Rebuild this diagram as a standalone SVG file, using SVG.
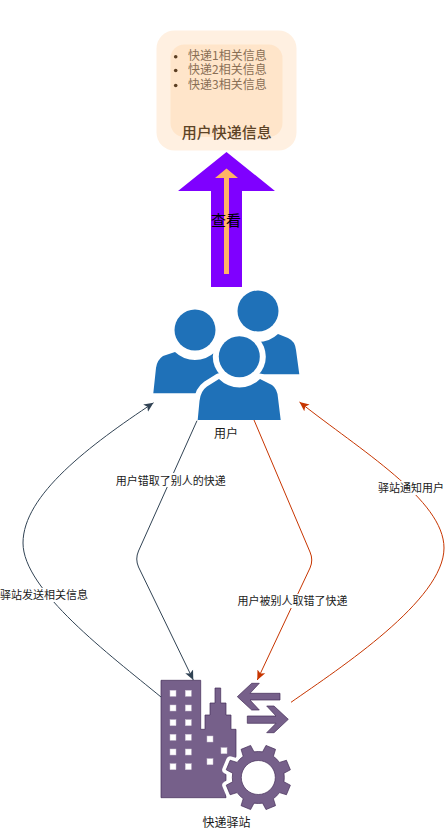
<svg xmlns="http://www.w3.org/2000/svg" xmlns:xlink="http://www.w3.org/1999/xlink" width="445" height="831" viewBox="0 0 445 831">
<style>
text{font-family:"Noto Sans CJK SC","Liberation Sans",sans-serif;fill:#1a1a1a;text-anchor:middle;dominant-baseline:central}
.lbl{font-size:11px}
.cap{font-size:12px}
.item{font-size:12px;fill:#6b5138;text-anchor:start;opacity:.8}
.conn{fill:none;stroke-width:1}
.dark{stroke:#314354}
.red{stroke:#c73500}
.bg{fill:#fff}
.user{fill:#1f71b8}
.ring{fill:#fff}
.prp{fill:#76608a;stroke:#432d57;stroke-width:.7}
.win{fill:#fff;stroke:#c9bfd2;stroke-width:.5}
</style>
<defs>
<marker id="aDark" markerUnits="userSpaceOnUse" markerWidth="12" markerHeight="12" refX="9.5" refY="5" orient="auto"><path d="M0,.7L9.5,5L0,9.3L2.2,5Z" fill="#314354"/></marker>
<marker id="aRed" markerUnits="userSpaceOnUse" markerWidth="12" markerHeight="12" refX="9.5" refY="5" orient="auto"><path d="M0,.7L9.5,5L0,9.3L2.2,5Z" fill="#c73500"/></marker>
<path id="gear" fill-rule="evenodd" d="M25.64,4.29L32.09,7.7L28.14,17.24L21.17,15.1A26,26 0 0 1 15.1,21.17L17.24,28.14L7.7,32.09L4.29,25.64A26,26 0 0 1 -4.29,25.64L-7.7,32.09L-17.24,28.14L-15.1,21.17A26,26 0 0 1 -21.17,15.1L-28.14,17.24L-32.09,7.7L-25.64,4.29A26,26 0 0 1 -25.64,-4.29L-32.09,-7.7L-28.14,-17.24L-21.17,-15.1A26,26 0 0 1 -15.1,-21.17L-17.24,-28.14L-7.7,-32.09L-4.29,-25.64A26,26 0 0 1 4.29,-25.64L7.7,-32.09L17.24,-28.14L15.1,-21.17A26,26 0 0 1 21.17,-15.1L28.14,-17.24L32.09,-7.7L25.64,-4.29A26,26 0 0 1 25.64,4.29ZM17,0A17,17 0 1 0 -17,0A17,17 0 1 0 17,0Z"/>
</defs>

<g id="info">
<rect x="156.5" y="30.5" width="140" height="120" rx="18" fill="#fff0e1"/>
<rect x="170.5" y="44.5" width="112" height="92.5" rx="14" fill="#ffe5ca"/>
<circle cx="175.7" cy="56.7" r="1.8" fill="#5c3f23"/>
<circle cx="175.7" cy="70.5" r="1.8" fill="#5c3f23"/>
<circle cx="175.7" cy="85.5" r="1.8" fill="#5c3f23"/>
<text class="item" x="188" y="54.5">快递1相关信息</text>
<text class="item" x="188" y="68.5">快递2相关信息</text>
<text class="item" x="188" y="83">快递3相关信息</text>
<text x="226.7" y="131.5" font-size="15" font-weight="500" style="fill:#5c4326">用户快递信息</text>
</g>

<g id="view">
<path d="M226.5,152L275,191H242V287H211V191H178Z" fill="#7f00ff"/>
<path d="M226.5,168.5L238,178H229V274H224V178H215Z" fill="#ffb366"/>
<text x="226" y="219.5" font-size="15" style="fill:#000">查看</text>
</g>

<g id="users">
<path class="user" d="M299.3,374.3L296,350Q295,341 288,338L278,334A29,29 0 0 1 238,334L240,374.3Z"/>
<circle class="user" cx="258" cy="311" r="20.5"/>
<path class="user" d="M153.3,393.3L156,368Q157,360 163,356L175,352A29,29 0 0 0 215,352L225,393.3Z"/>
<circle class="user" cx="195" cy="330" r="20.5"/>
<circle class="ring" cx="239.3" cy="356.7" r="26.5"/>
<path d="M197.7,420L199.5,401Q200.5,391 207,386.5L219,379A29,29 0 0 0 260,379L272,385Q277.5,389 278,398L280.7,420Z" fill="#fff" stroke="#fff" stroke-width="11" stroke-linejoin="round"/>
<path class="user" d="M197.7,420L199.5,401Q200.5,391 207,386.5L219,379A29,29 0 0 0 260,379L272,385Q277.5,389 278,398L280.7,420Z"/>
<circle class="user" cx="239.3" cy="356.7" r="20.5"/>
<text class="cap" x="226" y="432">用户</text>
</g>

<g id="station">
<path class="prp" d="M161,680.3H200.7V729.3H205V715H210V703H215V688H220.7V703H226V715H231V729.3H236V770H226V797.7H161Z"/>
<g class="win">
<rect x="170" y="690.3" width="6" height="6"/><rect x="185.3" y="690.3" width="6" height="6"/>
<rect x="170" y="705" width="6" height="6"/><rect x="185.3" y="705" width="6" height="6"/>
<rect x="170" y="719.7" width="6" height="6"/><rect x="185.3" y="719.7" width="6" height="6"/>
<rect x="170" y="734.3" width="6" height="6"/><rect x="185.3" y="734.3" width="6" height="6"/>
<rect x="170" y="749" width="6" height="6"/><rect x="185.3" y="749" width="6" height="6"/>
<rect x="170" y="763.7" width="6" height="6"/><rect x="185.3" y="763.7" width="6" height="6"/>
<rect x="207" y="736" width="6" height="6"/><rect x="221" y="747.7" width="6" height="6"/><rect x="207" y="758.7" width="6" height="6"/>
</g>
<use xlink:href="#gear" href="#gear" transform="translate(258.3,777.5)" fill="#fff" stroke="#fff" stroke-width="8" stroke-linejoin="round"/>
<circle cx="258.3" cy="777.5" r="17" fill="#fff"/>
<use xlink:href="#gear" href="#gear" class="prp" transform="translate(258.3,777.5)"/>
<path class="prp" d="M237.3,696.7L251.7,683.3H259.3L250,693.3H280V700H250L259.3,710H251.7Z"/>
<path class="prp" d="M288.3,719.3L274,706H266.7L276,716H247.3V723.3H276L266.7,732.7H274Z"/>
<text class="cap" x="226.5" y="821.5">快递驿站</text>
</g>

<g id="connectors">
<path class="conn dark" marker-end="url(#aDark)" d="M161,697C110,655 23,590 23,543C23,495 90,445 153.5,402.8"/>
<path class="conn dark" marker-end="url(#aDark)" d="M197,420.7L138.5,551Q135,559 138.5,567L193.3,680"/>
<path class="conn red" marker-end="url(#aRed)" d="M254,420L310,552Q313.5,560 310,568L257.3,680"/>
<path class="conn red" marker-end="url(#aRed)" d="M291,702.3C340,668 444,600 444,548C444,500 360,450 299.5,402"/>
<rect class="bg" x="115.5" y="473" width="110" height="14"/>
<text class="lbl" x="170.7" y="479.5">用户错取了别人的快递</text>
<rect class="bg" x="0" y="588" width="88" height="14"/>
<text class="lbl" x="44" y="594">驿站发送相关信息</text>
<rect class="bg" x="237.7" y="594" width="110" height="14"/>
<text class="lbl" x="292.5" y="600">用户被别人取错了快递</text>
<rect class="bg" x="378" y="481" width="66" height="14"/>
<text class="lbl" x="411" y="487">驿站通知用户</text>
</g>
</svg>
